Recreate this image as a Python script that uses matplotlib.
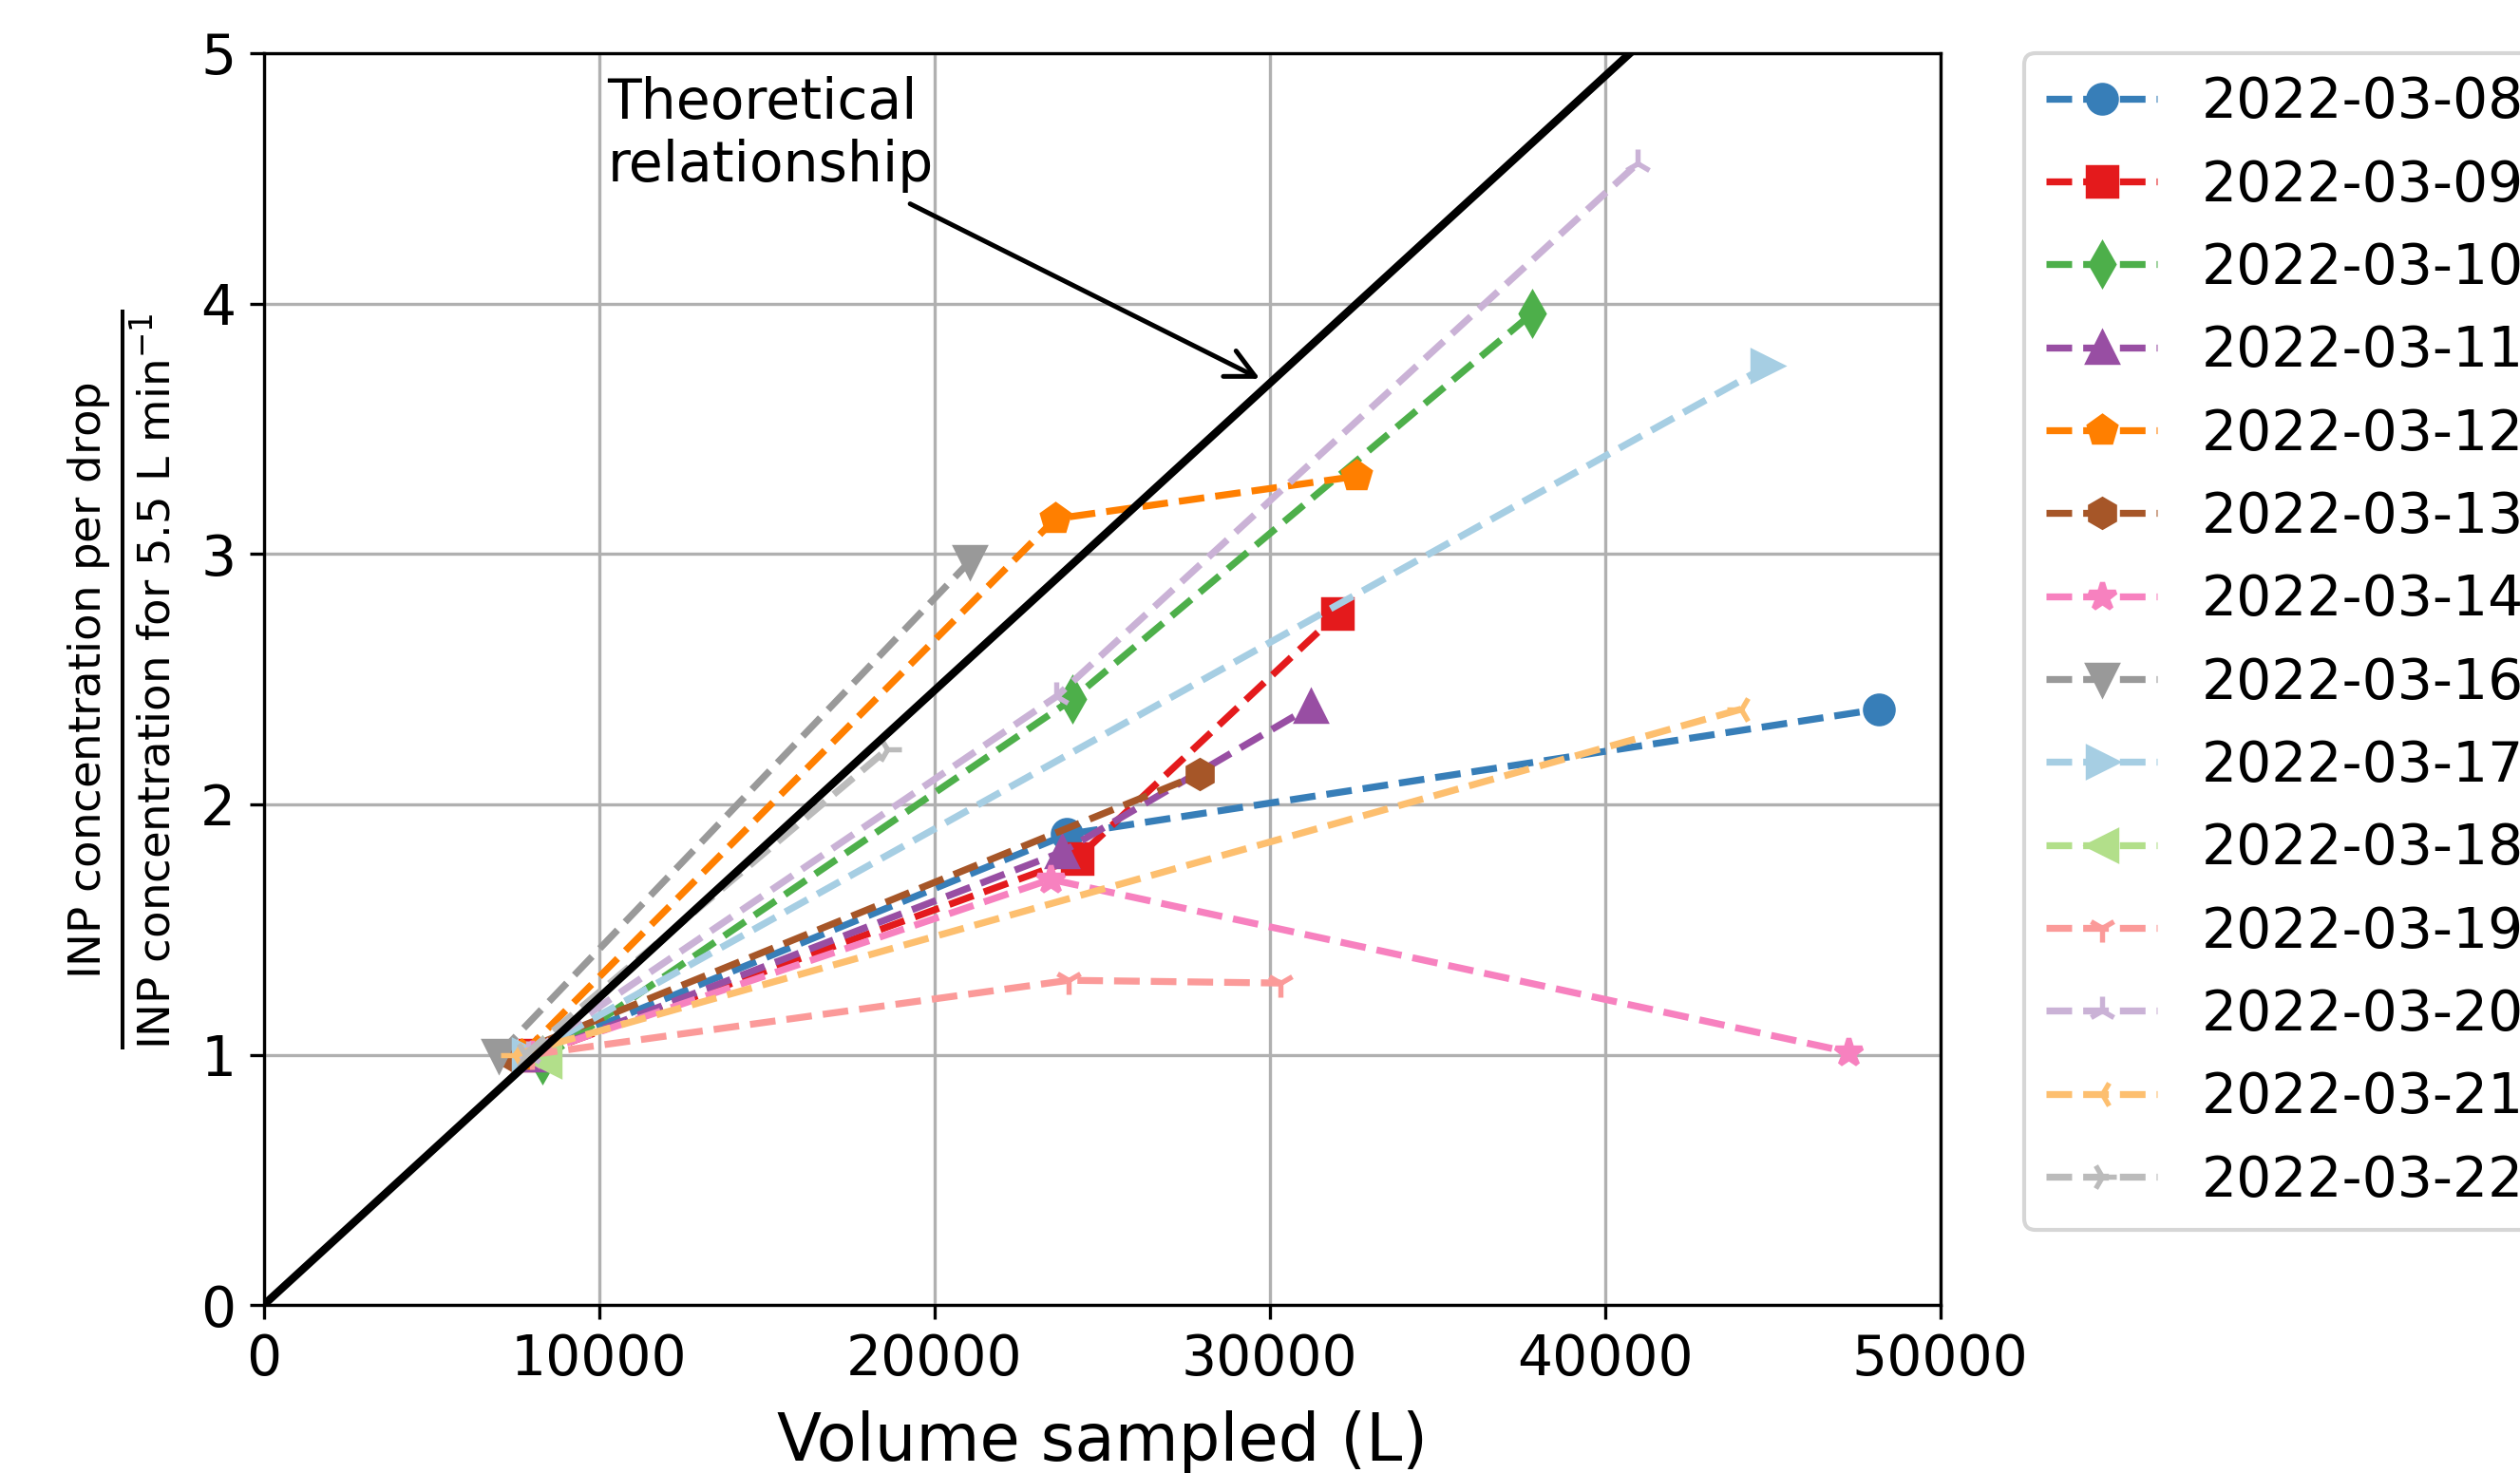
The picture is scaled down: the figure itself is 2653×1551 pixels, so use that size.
import matplotlib
matplotlib.use("Agg")
import matplotlib.pyplot as plt

# ---- data ----
dates = ['2022-03-08', '2022-03-09', '2022-03-10', '2022-03-11', '2022-03-12',
         '2022-03-13', '2022-03-14', '2022-03-16', '2022-03-17', '2022-03-18',
         '2022-03-19', '2022-03-20', '2022-03-21', '2022-03-22']

vol_0308 = [7900, 23960, 48170]
rat_0308 = [1.00, 1.88, 2.38]
vol_0309 = [8100, 24260, 32020]
rat_0309 = [1.00, 1.785, 2.76]
vol_0310 = [8300, 24120, 37830]
rat_0310 = [0.98, 2.42, 3.96]
vol_0311 = [8100, 23820, 31230]
rat_0311 = [1.00, 1.81, 2.39]
vol_0312 = [7700, 23610, 32600]
rat_0312 = [1.00, 3.14, 3.31]
vol_0313 = [7400, 27920]
rat_0313 = [1.00, 2.12]
vol_0314 = [8000, 23470, 47270]
rat_0314 = [1.00, 1.70, 1.01]
vol_0316 = [7000, 21060]
rat_0316 = [1.00, 2.97]
vol_0317 = [7900, 44830]
rat_0317 = [1.00, 3.75]
vol_0318 = [8400]
rat_0318 = [0.975]
vol_0319 = [8000, 24010, 30330]
rat_0319 = [1.00, 1.297, 1.286]
vol_0320 = [7900, 23640, 40980]
rat_0320 = [1.00, 2.43, 4.56]
vol_0321 = [7500, 44070]
rat_0321 = [1.00, 2.38]
vol_0322 = [7800, 18600]
rat_0322 = [1.00, 2.22]

volumes = [vol_0308, vol_0309, vol_0310, vol_0311, vol_0312, vol_0313, vol_0314,
           vol_0316, vol_0317, vol_0318, vol_0319, vol_0320, vol_0321, vol_0322]
ratios = [rat_0308, rat_0309, rat_0310, rat_0311, rat_0312, rat_0313, rat_0314,
          rat_0316, rat_0317, rat_0318, rat_0319, rat_0320, rat_0321, rat_0322]

# theoretical relationship: ratio = V / V_ref
v_ref = 8150
theory_x = [0, 50000]

colors = ['#377eb8', '#e41a1c', '#4daf4a', '#984ea3', '#ff7f00', '#a65628', '#f781bf',
          '#999999', '#a6cee3', '#b2df8a', '#fb9a99', '#cab2d6', '#fdbf6f', '#bbbbbb']
markers = ['o', 's', 'd', '^', 'p', 'h', '*', 'v', '>', '<', '1', '2', '3', '4']

xticks = [0, 10000, 20000, 30000, 40000, 50000]
yticks = [0, 1, 2, 3, 4, 5]

# ---- figure ----
fig = plt.figure(figsize=(2653 / 300, 1551 / 300), dpi=300)
fig.subplots_adjust(left=0.1046, right=0.770, top=0.964, bottom=0.114)
ax = fig.add_subplot(111)

for d, v, r, c, m in zip(dates, volumes, ratios, colors, markers):
    ax.plot(v, r, linestyle='--', marker=m, color=c, lw=1.75, ms=7,
            mew=1.3, label=d)

ax.plot(theory_x, [x / v_ref for x in theory_x], color='black', lw=2)

ax.annotate('Theoretical\nrelationship', xy=(29920, 3.685), xytext=(10250, 4.91),
            ha='left', va='top', fontsize=14,
            arrowprops=dict(arrowstyle='->', color='black', lw=1.2,
                            mutation_scale=18))

ax.set_xlim(0, 50000)
ax.set_ylim(0, 5)
ax.set_xticks(xticks)
ax.set_yticks(yticks)
ax.tick_params(labelsize=14)
ax.grid(True)
ax.set_xlabel('Volume sampled (L)', fontsize=16.5, labelpad=6)
ax.set_ylabel(r'$\frac{\mathrm{INP\ concentration\ per\ drop}}'
              r'{\mathrm{INP\ concentration\ for\ 5.5\ L\ min^{-1}}}$', fontsize=16,
              labelpad=7)

ax.legend(loc='upper left', bbox_to_anchor=(1.05, 1.0), fontsize=14,
          borderaxespad=0, labelspacing=0.52)

fig.savefig('out.png', dpi=300)
